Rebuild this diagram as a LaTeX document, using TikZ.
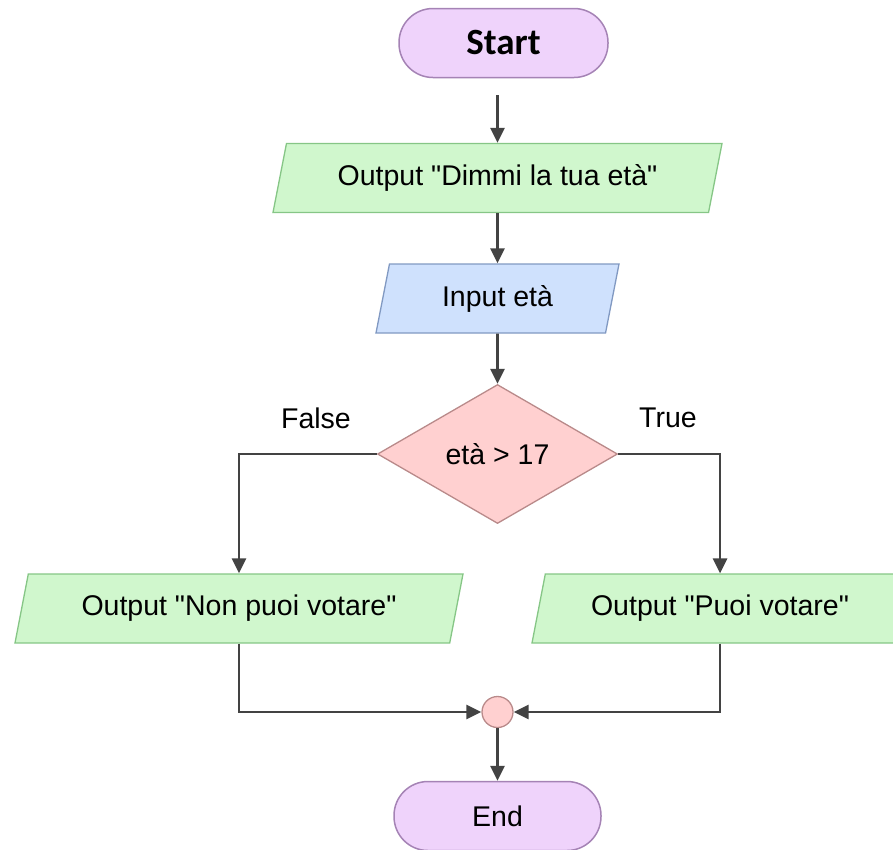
\documentclass[tikz,border=0pt]{standalone}
\usepackage{fontspec}
\newfontfamily\libsans{Liberation Sans}
\newfontfamily\startfont{Carlito}
\usetikzlibrary{shapes.geometric,arrows.meta,calc}
\definecolor{termfill}{HTML}{EFD3FB}
\definecolor{termdraw}{HTML}{A583B5}
\definecolor{outfill}{HTML}{D0F7CD}
\definecolor{outdraw}{HTML}{86C686}
\definecolor{infill}{HTML}{CFE1FD}
\definecolor{indraw}{HTML}{8199C2}
\definecolor{decfill}{HTML}{FFD0D0}
\definecolor{decdraw}{HTML}{B98A8A}
\definecolor{linecol}{HTML}{434343}
\begin{document}
\begin{tikzpicture}[x=1pt,y=-1pt,
  txt/.style={font=\libsans\fontsize{28.5}{33}\selectfont, text=black},
  term/.style={txt, draw=termdraw, fill=termfill, line width=1.5pt, rounded corners=34pt,
    minimum height=69pt, inner sep=0pt},
  io/.style={txt, trapezium, trapezium left angle=63.4, trapezium right angle=116.6,
    trapezium stretches body, line width=1.3pt, minimum height=69pt, inner sep=0pt},
  outbox/.style={io, draw=outdraw, fill=outfill},
  inbox/.style={io, draw=indraw, fill=infill},
  decbox/.style={txt, diamond, draw=decdraw, fill=decfill, line width=1.3pt,
    minimum width=240pt, minimum height=139pt, inner sep=0pt, aspect=1.73},
  joinbox/.style={circle, draw=decdraw, fill=decfill, line width=1.3pt, minimum size=31pt, inner sep=0pt},
  conn/.style={draw=linecol, line width=2.8pt, -{Triangle[length=15pt,width=14pt]}},
  lbl/.style={txt}
]
\clip (0,0) rectangle (893,849);
\node[term, minimum width=209pt, font=\startfont\bfseries\fontsize{37}{40}\selectfont] (start) at (503.5,43) {Start};
\coordinate (s0) at (497.5,95);
\node[outbox, minimum width=449pt] (out1) at (497.5,178) {Output "Dimmi la tua età"};
\node[inbox, minimum width=243pt] (inp) at (497.5,298.5) {Input età};
\node[decbox] (dec) at (497.5,454) {età > 17};
\node[lbl] (lf) at (316,418) {False};
\node[lbl] (lt) at (668,418) {True};
\node[outbox, minimum width=448pt] (outL) at (239,608.5) {Output "Non puoi votare"};
\node[outbox, minimum width=376pt] (outR) at (720,608.5) {Output "Puoi votare"};
\node[joinbox] (join) at (497.5,712) {};
\node[term, minimum width=207pt] (end) at (497.5,816) {End};

\draw[conn] (s0) -- (out1.north);
\draw[conn] (out1.south) -- (inp.north);
\draw[conn] (inp.south) -- (dec.north);
\draw[conn] (dec.west) -| (outL.north);
\draw[conn] (dec.east) -| (outR.north);
\draw[conn] (outL.south) |- (join.west);
\draw[conn] (outR.south) |- (join.east);
\draw[conn] (join.south) -- (end.north);
\end{tikzpicture}
\end{document}
